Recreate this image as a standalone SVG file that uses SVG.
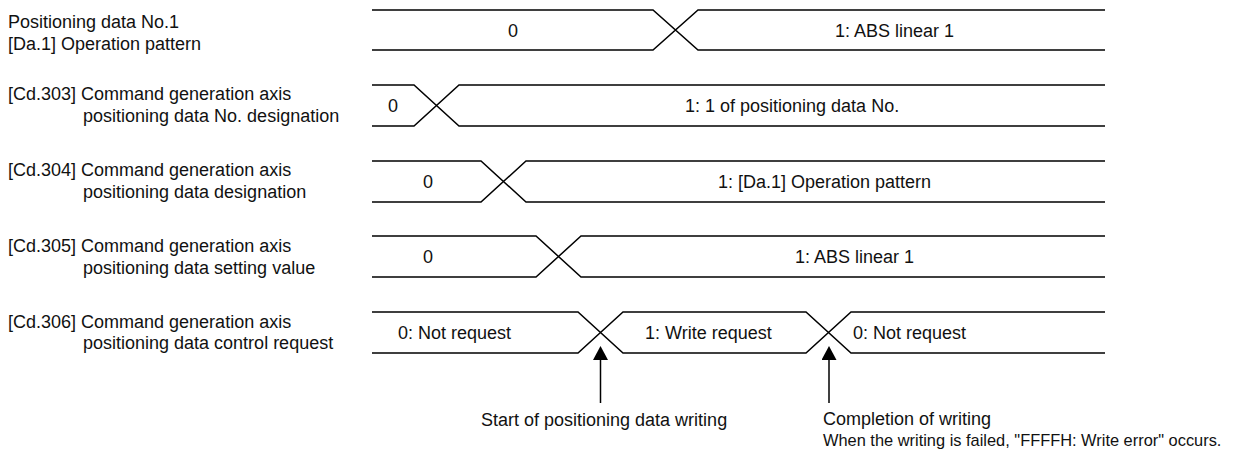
<svg xmlns="http://www.w3.org/2000/svg" width="1235" height="452" viewBox="0 0 1235 452">
<style>
text{font-family:"Liberation Sans",Arial,sans-serif;font-size:18px;fill:#111}
.m{text-anchor:middle}
.s{font-size:16.4px}
.w{fill:none;stroke:#000;stroke-width:1.5}
.c{fill:none;stroke:#000;stroke-width:1.5}
</style>
<defs>
<marker id="ah" markerUnits="userSpaceOnUse" markerWidth="14" markerHeight="15" viewBox="0 0 14 15" refX="0" refY="7.5" orient="auto">
<path d="M0,0 L14,7.5 L0,15 z" fill="#000"/>
</marker>
</defs>
<rect width="1235" height="452" fill="#fff"/>
<g id="row-da1">
<text x="8" y="28">Positioning data No.1</text>
<text x="8" y="50">[Da.1] Operation pattern</text>
<path class="w" d="M372,10 H653 L698,50 H1105 M372,50 H653 L698,10 H1105"/>
<text class="m" x="513" y="37">0</text>
<text x="835" y="37">1: ABS linear 1</text>
</g>
<g id="row-cd303">
<text x="8" y="100">[Cd.303] Command generation axis</text>
<text x="83" y="122">positioning data No. designation</text>
<path class="w" d="M372,85 H414 L459,126 H1105 M372,126 H414 L459,85 H1105"/>
<text class="m" x="393" y="112">0</text>
<text x="685" y="112">1: 1 of positioning data No.</text>
</g>
<g id="row-cd304">
<text x="8" y="176">[Cd.304] Command generation axis</text>
<text x="83" y="198">positioning data designation</text>
<path class="w" d="M372,161 H481 L526,202 H1105 M372,202 H481 L526,161 H1105"/>
<text class="m" x="428" y="188">0</text>
<text x="718" y="188">1: [Da.1] Operation pattern</text>
</g>
<g id="row-cd305">
<text x="8" y="252">[Cd.305] Command generation axis</text>
<text x="83" y="274">positioning data setting value</text>
<path class="w" d="M372,236 H536 L581,277 H1105 M372,277 H536 L581,236 H1105"/>
<text class="m" x="428" y="263">0</text>
<text x="795" y="263">1: ABS linear 1</text>
</g>
<g id="row-cd306">
<text x="8" y="328">[Cd.306] Command generation axis</text>
<text x="83" y="349">positioning data control request</text>
<path class="w" d="M372,312 H578 L623,353 H806 L851,312 H1105 M372,353 H578 L623,312 H806 L851,353 H1105"/>
<text x="398" y="339">0: Not request</text>
<text x="645" y="339">1: Write request</text>
<text x="853" y="339">0: Not request</text>
</g>
<g id="note-start">
<text x="481" y="426">Start of positioning data writing</text>
</g>
<g id="note-complete">
<text x="823" y="425">Completion of writing</text>
<text class="s" x="823" y="446">When the writing is failed, "FFFFH: Write error" occurs.</text>
</g>
<g id="connectors">
<line class="c" x1="600.5" y1="403" x2="600.5" y2="360" marker-end="url(#ah)"/>
<line class="c" x1="829" y1="403" x2="829" y2="360" marker-end="url(#ah)"/>
</g>
</svg>
